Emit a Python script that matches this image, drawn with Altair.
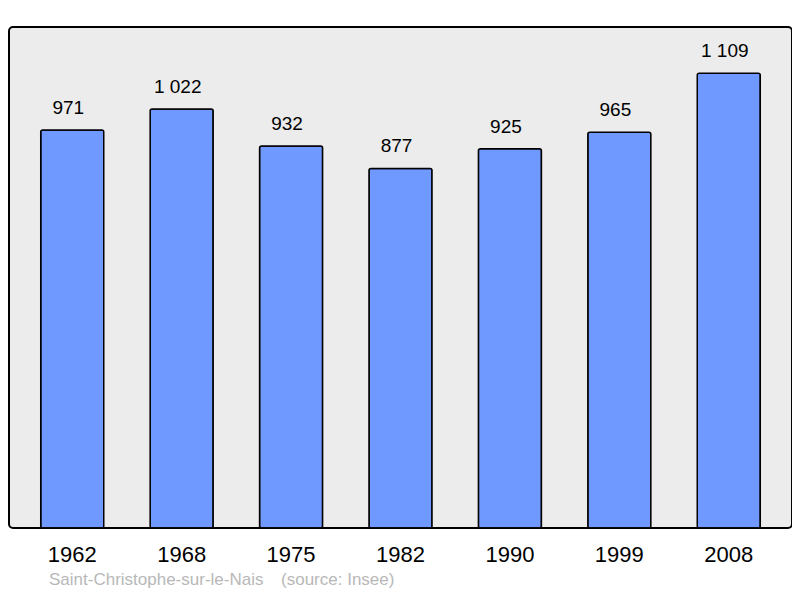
import altair as alt
import pandas as pd

years = ["1962", "1968", "1975", "1982", "1990", "1999", "2008"]
population = [971, 1022, 932, 877, 925, 965, 1109]
labels = [f"{v:,}".replace(",", " ") for v in population]

df = pd.DataFrame({"year": years, "pop": population, "label": labels})

FONT = "Liberation Sans"
NB = "\u00a0"

x = alt.X("year:N", sort=years,
          scale=alt.Scale(paddingInner=0.424, paddingOuter=0.29),
          axis=alt.Axis(title=None, domain=False, ticks=False, labelAngle=0,
                        labelPadding=16, labelFontSize=22, labelColor="black",
                        labelFont=FONT, grid=False))
y = alt.Y("pop:Q", scale=alt.Scale(domain=[0, 1222], nice=False), axis=None)

bars = alt.Chart(df).mark_bar(color="#7099ff", stroke="black", strokeWidth=1.5,
                              cornerRadius=2).encode(x=x, y=y)
text = alt.Chart(df).mark_text(dy=-22, dx=-4, fontSize=19, font=FONT, color="black",
                               baseline="middle").encode(x=x, y=y, text="label:N")

chart = (bars + text).properties(
    width=783, height=501,
    title=alt.TitleParams("Saint-Christophe-sur-le-Nais" + NB * 3 + "\u2009(source: Insee)",
                          orient="bottom", anchor="start", dx=40, offset=7,
                          fontSize=17, font=FONT, color="#b8b8b8",
                          fontWeight="normal"),
    autosize=alt.AutoSizeParams(type="none"),
    padding={"left": 1, "top": 19, "right": 0, "bottom": 62},
).configure(background="white").configure_view(
    fill="#ececec", stroke="black", strokeWidth=2, cornerRadius=4)

chart.save("out.html", embed_options={"renderer": "svg", "actions": False})
